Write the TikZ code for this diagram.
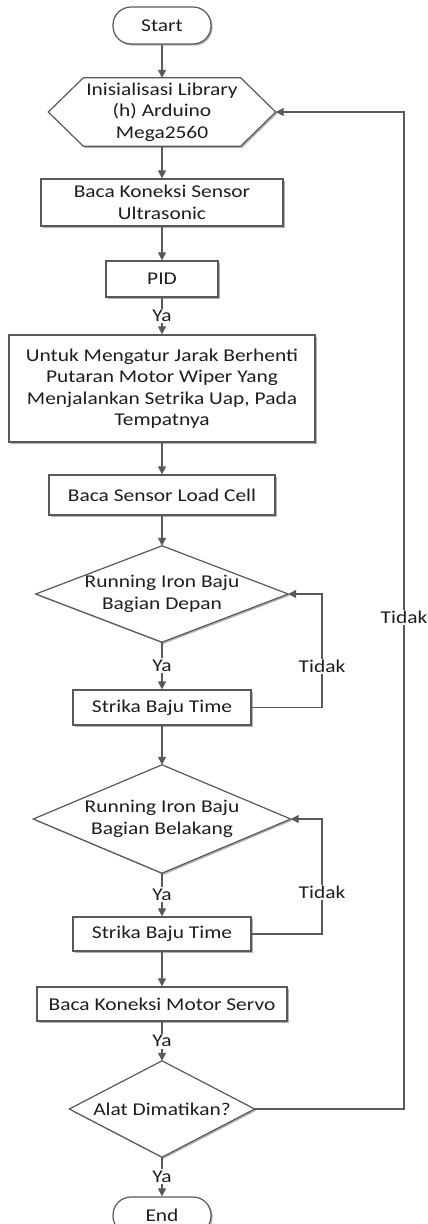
\documentclass[tikz,border=0pt]{standalone}
\usepackage{fontspec}
\setmainfont{Carlito}[FakeStretch=1.19]
\usetikzlibrary{arrows.meta,shadows}
\definecolor{ln}{HTML}{595959}
\definecolor{tx}{HTML}{1E1E1E}
\begin{document}
\begin{tikzpicture}[x=1pt,y=-1pt,
  txtfont/.style={font=\fontsize{18}{21.5}\selectfont, text=tx},
  shd/.style={drop shadow={shadow xshift=1.6pt, shadow yshift=-1.6pt, opacity=0.3, fill=black}},
  base/.style={draw=ln, line width=1.2pt, fill=white, shd, align=center, inner sep=0pt, txtfont},
  proc/.style={base, rectangle},
  term/.style={base, rectangle, rounded corners=18pt, minimum width=98pt, minimum height=37pt},
  frame/.style={rectangle, inner sep=0pt},
  shapepath/.style={draw=ln, line width=1.2pt, fill=white, shd},
  plain/.style={align=center, inner sep=0pt, txtfont},
  arr/.style={draw=ln, line width=1.2pt, -{Triangle[width=8pt,length=8pt]}},
  lbl/.style={fill=white, inner sep=1.5pt, txtfont}]
\useasboundingbox (0,0) rectangle (428,1224);

\node[term] (start) at (162,25.5) {Start};

\node[frame, minimum width=227pt, minimum height=68pt] (hex) at (162,112) {};
\draw[shapepath] (hex.west) -- ([xshift=35pt]hex.north west) -- ([xshift=-35pt]hex.north east)
  -- (hex.east) -- ([xshift=-35pt]hex.south east) -- ([xshift=35pt]hex.south west) -- cycle;
\node[plain] (hext) at (hex) {Inisialisasi Library\\(h) Arduino\\Mega2560};

\node[proc, minimum width=242pt, minimum height=47pt] (ultra) at (162,202.5) {Baca Koneksi Sensor\\Ultrasonic};
\node[proc, minimum width=112pt, minimum height=36pt] (pid) at (162,279) {PID};
\node[proc, minimum width=306pt, minimum height=107pt] (big) at (162,388.5)
  {Untuk Mengatur Jarak Berhenti\\Putaran Motor Wiper Yang\\Menjalankan Setrika Uap, Pada\\Tempatnya};
\node[proc, minimum width=226pt, minimum height=40pt] (load) at (162,495) {Baca Sensor Load Cell};

\node[frame, minimum width=252pt, minimum height=96pt] (d1) at (162,594) {};
\draw[shapepath] (d1.north) -- (d1.east) -- (d1.south) -- (d1.west) -- cycle;
\node[plain] (d1t) at (d1) {Running Iron Baju\\Bagian Depan};

\node[proc, minimum width=178pt, minimum height=35pt] (s1) at (162,707.5) {Strika Baju Time};

\node[frame, minimum width=257pt, minimum height=108pt] (d2) at (162,819) {};
\draw[shapepath] (d2.north) -- (d2.east) -- (d2.south) -- (d2.west) -- cycle;
\node[plain] (d2t) at (d2) {Running Iron Baju\\Bagian Belakang};

\node[proc, minimum width=178pt, minimum height=34pt] (s2) at (162,934) {Strika Baju Time};
\node[proc, minimum width=250pt, minimum height=34pt] (servo) at (162,1004) {Baca Koneksi Motor Servo};

\node[frame, minimum width=185pt, minimum height=96pt] (d3) at (162,1109) {};
\draw[shapepath] (d3.north) -- (d3.east) -- (d3.south) -- (d3.west) -- cycle;
\node[plain] (d3t) at (d3) {Alat Dimatikan?};

\node[term] (end) at (162,1215.5) {End};

\coordinate (lx) at (322,0);
\coordinate (bx) at (404,0);

\draw[arr] (start) -- (hex);
\draw[arr] (hex) -- (ultra);
\draw[arr] (ultra) -- (pid);
\draw[arr] (pid) -- node[lbl]{Ya} (big);
\draw[arr] (big) -- (load);
\draw[arr] (load) -- (d1);
\draw[arr] (d1) -- node[lbl]{Ya} (s1);
\draw[arr] (s1) -- (d2);
\draw[arr] (d2) -- node[lbl]{Ya} (s2);
\draw[arr] (s2) -- (servo);
\draw[arr] (servo) -- node[lbl]{Ya} (d3);
\draw[arr] (d3) -- node[lbl]{Ya} (end);

\draw[arr] (s1.east) -- (s1.east -| lx) -- node[lbl,pos=0.36]{Tidak} (d1.east -| lx) -- (d1.east);
\draw[arr] (s2.east) -- (s2.east -| lx) -- node[lbl,pos=0.36]{Tidak} (d2.east -| lx) -- (d2.east);
\draw[arr] (d3.east) -- (d3.east -| bx) -- node[lbl,pos=0.493]{Tidak} (hex.east -| bx) -- (hex.east);
\end{tikzpicture}
\end{document}
